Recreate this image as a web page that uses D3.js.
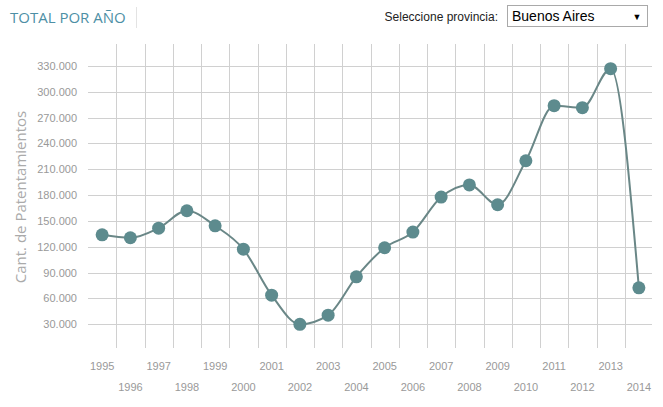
<!DOCTYPE html>
<html>
<head>
<meta charset="utf-8">
<script src="https://cdn.jsdelivr.net/npm/d3@7"></script>
<style>
  body { margin: 0; background: #fff; }
  svg { display: block; font-family: 'Liberation Sans', Arial, sans-serif; }
</style>
</head>
<body>
<div id="chart"></div>
<script>
const years  = ['1995','1996','1997','1998','1999','2000','2001','2002','2003','2004',
                '2005','2006','2007','2008','2009','2010','2011','2012','2013','2014']
const values = [133800, 130400, 141600, 161800, 144300, 117200, 63700, 29800, 40500, 85000,
                118800, 137000, 177700, 191800, 168800, 219900, 283900, 281600, 326900, 72200]
const yTicks = [30000, 60000, 90000, 120000, 150000, 180000, 210000, 240000, 270000, 300000, 330000]

const WIDTH = 663, HEIGHT = 407
const PLOT = { left: 88, right: 653, top: 44, bottom: 350 }

const svg = d3.select('#chart').append('svg')
  .attr('width', WIDTH).attr('height', HEIGHT)

// ── header ─────────────────────────────────────────────────────
svg.append('text')
  .attr('x', 10).attr('y', 23)
  .attr('fill', '#4d8fa5').style('font-family', "'Open Sans', sans-serif")
  .style('font-size', '15px').text('TOTAL POR AÑO')
svg.append('line')
  .attr('x1', 136.5).attr('x2', 136.5).attr('y1', 7).attr('y2', 28)
  .attr('stroke', '#e3e3e3')

svg.append('text')
  .attr('x', 498).attr('y', 21).attr('text-anchor', 'end')
  .attr('fill', '#222').style('font-size', '12px').text('Seleccione provincia:')
svg.append('rect')
  .attr('x', 507.5).attr('y', 5.5).attr('width', 140).attr('height', 21)
  .attr('fill', '#fff').attr('stroke', '#a9a9a9')
svg.append('text')
  .attr('x', 512).attr('y', 21)
  .attr('fill', '#000').style('font-size', '14px').text('Buenos Aires')
svg.append('text')
  .attr('x', 637).attr('y', 20).attr('text-anchor', 'middle')
  .attr('fill', '#000').style('font-size', '9px').text('▼')

// ── scales ─────────────────────────────────────────────────────
const x = d3.scaleBand().domain(years).range([PLOT.left, PLOT.right])
const y = d3.scaleLinear().domain([0, 330000]).range([PLOT.bottom, 66])
const cx = d => x(d) + x.bandwidth() / 2
const fmt = v => d3.format(',')(v).replace(/,/g, '.')

// ── grid ───────────────────────────────────────────────────────
const grid = svg.append('g').attr('class', 'grid')
grid.selectAll('.h').data(yTicks).join('line').attr('class', 'h')
  .attr('x1', PLOT.left).attr('x2', PLOT.right - 1)
  .attr('y1', d => Math.round(y(d)) + 0.5).attr('y2', d => Math.round(y(d)) + 0.5)
  .attr('stroke', '#d0d0d0')
grid.selectAll('.v').data(years.slice(1)).join('line').attr('class', 'v')
  .attr('x1', d => Math.round(x(d)) + 0.5).attr('x2', d => Math.round(x(d)) + 0.5)
  .attr('y1', PLOT.top).attr('y2', PLOT.bottom - 2)
  .attr('stroke', '#d0d0d0')

// ── axes ───────────────────────────────────────────────────────
const yAxis = svg.append('g')
  .attr('transform', `translate(${PLOT.left - 11},0)`)
  .call(d3.axisLeft(y).tickValues(yTicks).tickFormat(fmt).tickSize(0).tickPadding(0))
yAxis.select('.domain').remove()
yAxis.selectAll('text').attr('fill', '#999').style('font-size', '11px')

const xAxis = svg.append('g')
  .attr('transform', `translate(0,${PLOT.bottom})`)
  .call(d3.axisBottom(x).tickSize(0).tickPadding(0))
xAxis.select('.domain').remove()
xAxis.selectAll('text')
  .attr('fill', '#999').style('font-size', '11px')
  .attr('y', (d, i) => i % 2 === 0 ? 20 : 41)
  .attr('dy', 0)

svg.append('text')
  .attr('transform', 'translate(26,197) rotate(-90)')
  .attr('text-anchor', 'middle').attr('fill', '#aaa')
  .style('font-family', "'Open Sans', sans-serif").style('font-size', '15px')
  .text('Cant. de Patentamientos')

// ── line & dots ────────────────────────────────────────────────
const data = years.map((yr, i) => ({ year: yr, value: values[i] }))
const line = d3.line()
  .x(d => cx(d.year)).y(d => y(d.value))
  .curve(d3.curveMonotoneX)

svg.append('path').datum(data)
  .attr('d', line).attr('fill', 'none')
  .attr('stroke', '#6a8787').attr('stroke-width', 2)

svg.selectAll('.dot').data(data).join('circle').attr('class', 'dot')
  .attr('cx', d => cx(d.year)).attr('cy', d => y(d.value))
  .attr('r', 6.5).attr('fill', '#5d8b8e')
</script>
</body>
</html>
